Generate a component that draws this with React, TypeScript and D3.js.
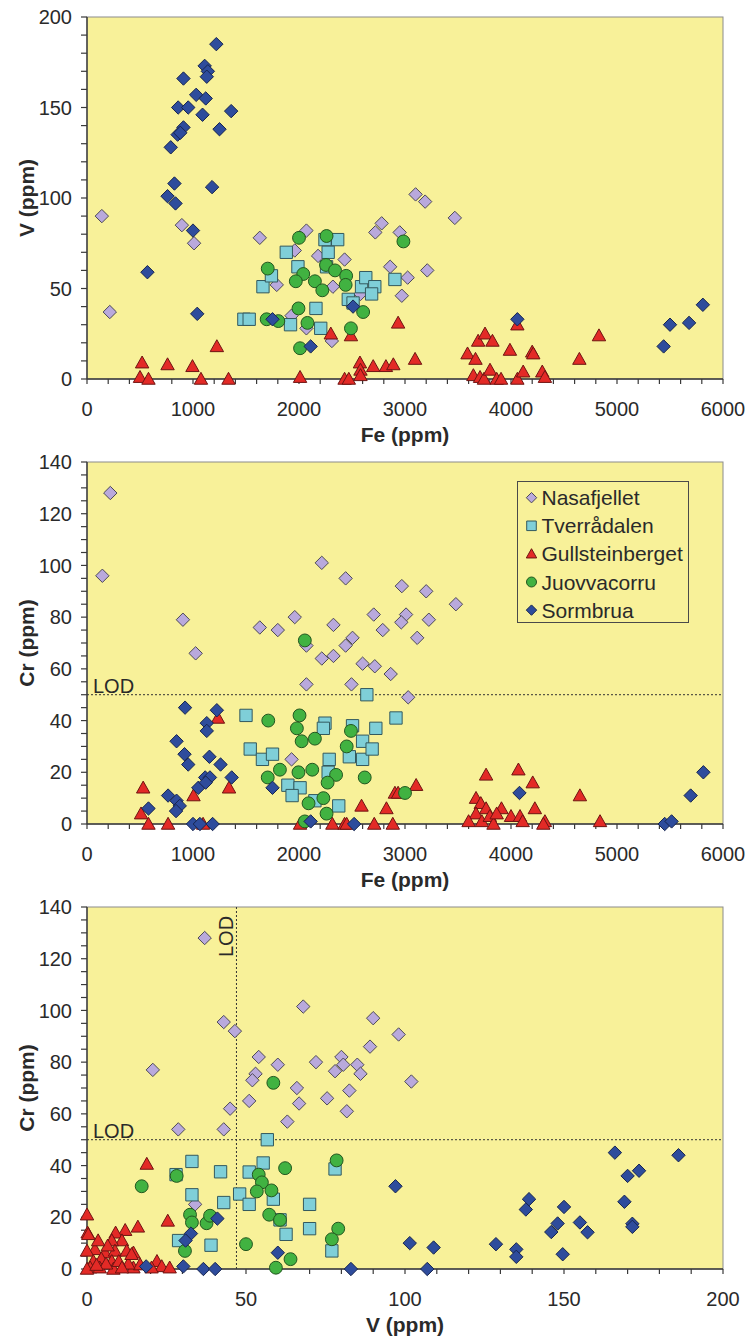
import React from "react";
import * as d3 from "d3";

type Pt = [number, number];

// ---- Series identity -------------------------------------------------------
const seriesNames = ["Nasafjellet", "Tverrådalen", "Gullsteinberget", "Juovvacorru", "Sormbrua"];
const seriesShapes = ["diamond", "square", "triangle", "circle", "diamond"];
const seriesFills = ["#B9A9DC", "#7FCFD8", "#E32A26", "#41B241", "#2E4C9C"];
const seriesStrokes = ["#4d4a55", "#33595e", "#6e1412", "#23561f", "#17254f"];

// ---- Axis ticks ------------------------------------------------------------
const feTicks = [0, 1000, 2000, 3000, 4000, 5000, 6000];
const vTicks = [0, 50, 100, 150, 200];
const crTicks = [0, 20, 40, 60, 80, 100, 120, 140];
const vAxisTicks = [0, 50, 100, 150, 200];

// Detection limits
const crLOD = 50;
const vLOD = 47;

// ---- V vs Fe ---------------------------------------------------------------
const nasafjelletFeV: Pt[] = [
  [140, 90], [215, 37], [895, 85], [1010, 75], [1630, 78], [2070, 82], [1960, 71], [2180, 68],
  [2430, 66], [1790, 52], [2320, 51], [2720, 81], [2780, 86], [2860, 62], [2970, 46], [2950, 81],
  [3025, 56], [1930, 35], [2070, 28], [2310, 21], [2580, 47], [3100, 102], [3190, 98], [3470, 89],
  [3210, 60],
];
const tverradalenFeV: Pt[] = [
  [1480, 33], [1530, 33], [1660, 51], [1740, 57], [1880, 70], [1990, 62], [2245, 77], [2365, 77],
  [2275, 70], [1920, 30], [2160, 39], [2205, 28], [2590, 51], [2630, 56], [2715, 51], [2685, 47],
  [2465, 44], [2510, 42], [2905, 55], [2260, 62],
];
const gullsteinbergetFeV: Pt[] = [
  [520, 9], [500, 1], [580, 0], [760, 8], [995, 7], [1075, 0], [1225, 18], [1335, 0], [2010, 1],
  [2300, 25], [2490, 24], [2430, 0], [2470, 0], [2575, 9], [2580, 5], [2580, 2], [2700, 7],
  [2820, 7], [2890, 8], [2935, 31], [3095, 11], [3590, 14], [3665, 11], [3690, 21], [3755, 25],
  [3825, 21], [3645, 2], [3708, 1], [3745, 0], [3802, 5], [3865, 0], [3906, 0], [3990, 16],
  [4060, 30], [4060, 0], [4115, 4], [4200, 15], [4210, 14], [4295, 4], [4320, 1], [4645, 11],
  [4830, 24],
];
const juovvacorruFeV: Pt[] = [
  [2260, 79], [2000, 78], [1705, 61], [2040, 58], [2150, 54], [1970, 54], [2255, 63], [2340, 60],
  [2445, 57], [2440, 52], [2220, 49], [2985, 76], [1995, 39], [1695, 33], [1805, 32], [2080, 31],
  [2605, 37], [2490, 28], [2010, 17],
];
const sormbruaFeV: Pt[] = [
  [1220, 185], [1110, 173], [1140, 170], [1130, 167], [910, 166], [1030, 157], [1120, 155],
  [860, 150], [955, 150], [1090, 146], [1360, 148], [910, 139], [855, 135], [880, 136], [1250, 138],
  [790, 128], [825, 108], [1180, 106], [760, 101], [835, 97], [1000, 82], [570, 59], [1040, 36],
  [1750, 33], [2510, 40], [2110, 18], [4060, 33], [5810, 41], [5500, 30], [5680, 31], [5440, 18],
];

// ---- Cr vs Fe --------------------------------------------------------------
const nasafjelletFeCr: Pt[] = [
  [220, 128], [145, 96], [905, 79], [1025, 66], [1630, 76], [1800, 75], [1960, 80], [2215, 101],
  [2070, 69], [2215, 64], [2325, 65], [2325, 77], [2440, 95], [2440, 69], [2505, 72], [2600, 62],
  [2715, 61], [2705, 81], [2790, 75], [2865, 58], [2970, 92], [3010, 81], [2965, 78], [3030, 49],
  [2070, 54], [2495, 54], [1930, 25], [3200, 90], [3480, 85], [3225, 79], [3115, 72],
];
const tverradalenFeCr: Pt[] = [
  [1500, 42], [1540, 29], [1655, 25], [1750, 27], [1895, 15], [2010, 14], [1935, 11], [2245, 39],
  [2230, 37], [2285, 25], [2275, 20], [2150, 9], [2375, 7], [2505, 38], [2475, 26], [2600, 32],
  [2600, 25], [2690, 29], [2725, 37], [2640, 50], [2915, 41],
];
const gullsteinbergetFeCr: Pt[] = [
  [530, 14], [510, 4], [580, 0], [765, 0], [1005, 11], [1235, 41], [1340, 14], [1095, 0],
  [2010, 0], [2315, 0], [2430, 0], [2450, 0], [2590, 7], [2710, 0], [2825, 6], [2885, 0],
  [2905, 12], [2935, 12], [3105, 15], [3765, 19], [3670, 10], [3715, 8], [3765, 6], [3670, 4],
  [3600, 1], [3725, 1], [3800, 3], [3835, 0], [3910, 6], [3865, 4], [4000, 3], [4070, 21],
  [4205, 16], [4225, 6], [4085, 3], [4110, 1], [4320, 1], [4305, 0], [4650, 11], [4840, 1],
];
const juovvacorruFeCr: Pt[] = [
  [2055, 71], [1710, 40], [2005, 42], [1980, 37], [2025, 32], [2150, 33], [2490, 36], [2450, 30],
  [1820, 21], [1705, 18], [1995, 20], [2125, 21], [2350, 19], [2270, 16], [2620, 18], [2230, 10],
  [2090, 8], [2260, 4], [2055, 1], [3000, 12],
];
const sormbruaFeCr: Pt[] = [
  [925, 45], [1225, 44], [1130, 39], [1130, 36], [845, 32], [920, 27], [955, 23], [1155, 26],
  [1260, 23], [1365, 18], [1115, 18], [1160, 18], [1050, 14], [1120, 16], [765, 11], [845, 9],
  [875, 7], [840, 5], [580, 6], [1000, 0], [1065, 0], [1185, 0], [1750, 14], [2110, 1], [2520, 0],
  [4080, 12], [5815, 20], [5695, 11], [5450, 0], [5515, 1],
];

// ---- Cr vs V ---------------------------------------------------------------
const nasafjelletVCr: Pt[] = [
  [37, 128], [43, 95.5], [46.5, 92], [68, 101.5], [90, 97], [98, 90.7], [89, 86], [20.7, 77],
  [54, 82], [53, 75.5], [52, 73], [60, 79], [72, 80], [80, 82], [80.6, 79], [78, 76.5], [85, 79],
  [86, 75.5], [82.5, 69], [81.7, 61], [75.5, 66], [66, 70], [66.7, 64], [63, 57], [51, 65],
  [45, 62], [43, 54], [28.7, 54], [34, 25], [102, 72.5],
];
const tverradalenVCr: Pt[] = [
  [56.7, 50], [33, 41.6], [28, 36.5], [42, 37.6], [51, 37.5], [55.4, 41], [78, 38.7], [33, 28.7],
  [43, 25.7], [48, 29], [51, 25], [58.6, 27], [70, 25], [70, 15.6], [62.6, 13.4], [60.7, 19],
  [28.8, 11], [39, 9.2], [77, 7],
];
const gullsteinbergetVCr: Pt[] = [
  [18.8, 40.6], [25.4, 18.6], [16, 16.3], [0, 21], [0.2, 14], [12, 15], [9, 14], [11, 11],
  [7.8, 11], [2.5, 7.6], [5.7, 6.3], [0, 7], [8.8, 7], [14.6, 6.3], [22, 3], [23.5, 1], [26, 0.5],
  [2, 3], [4.5, 4], [7.8, 3], [1, 0.5], [4, 0.5], [8.3, 0], [14.6, 0.5], [16.7, 1.7], [0, 0],
  [20.3, 0.5], [12.5, 7], [13, 2], [6, 2], [3, 1.5], [10, 3], [11, 0.5], [6.5, 9], [3.5, 11],
  [14, 5.7], [0.4, 13.4],
];
const juovvacorruVCr: Pt[] = [
  [58.6, 72], [17.2, 32], [28.2, 36], [54, 36.5], [55, 33.5], [53.4, 30], [58, 30.4], [62.3, 39],
  [78.5, 42], [32.4, 21], [33, 18], [37.6, 17.7], [38.7, 20.6], [57.3, 21], [60.7, 19], [30.8, 7],
  [50, 9.6], [64, 3.8], [59.4, 0.5], [79, 15.6], [77, 11.5],
];
const sormbruaVCr: Pt[] = [
  [41, 19.5], [32.7, 13.7], [31, 11], [97, 32], [60, 6.3], [18.6, 1], [30.3, 1], [36.6, 0],
  [40.3, 0], [83, 0], [101.5, 10], [166, 45], [186, 44], [170, 36], [173.6, 38], [169, 26],
  [171.5, 17.5], [171.5, 16.3], [139, 27], [138, 23], [150, 24], [148, 17.6], [146, 14.3],
  [155, 18], [157.4, 14.2], [149.6, 5.7], [128.6, 9.6], [135, 7.6], [135, 4.7], [109, 8.3],
  [107, 0],
];

// ---- Layout ----------------------------------------------------------------
const WIDTH = 749;
const HEIGHT = 1342;
const PLOT_LEFT = 87;
const PLOT_W = 636;
const PLOT_H = 362;
const FONT = "'Liberation Sans', Arial, Helvetica, sans-serif";
const TEXT = "#2a2a2a";
const PLOT_BG = "#F8F199";

type PanelSpec = {
  top: number;
  xDomain: [number, number];
  yDomain: [number, number];
  xTicks: number[];
  yTicks: number[];
  xMinorStep: number;
  yMinorStep: number;
  xTitle: string;
  yTitle: string;
  series: Pt[][];
  lodY?: number;
  lodX?: number;
  legend?: boolean;
};

const panels: PanelSpec[] = [
  {
    top: 17, xDomain: [0, 6000], yDomain: [0, 200], xTicks: feTicks, yTicks: vTicks,
    xMinorStep: 200, yMinorStep: 10, xTitle: "Fe (ppm)", yTitle: "V (ppm)",
    series: [nasafjelletFeV, tverradalenFeV, gullsteinbergetFeV, juovvacorruFeV, sormbruaFeV],
  },
  {
    top: 462, xDomain: [0, 6000], yDomain: [0, 140], xTicks: feTicks, yTicks: crTicks,
    xMinorStep: 200, yMinorStep: 5, xTitle: "Fe (ppm)", yTitle: "Cr (ppm)",
    series: [nasafjelletFeCr, tverradalenFeCr, gullsteinbergetFeCr, juovvacorruFeCr, sormbruaFeCr],
    lodY: crLOD, legend: true,
  },
  {
    top: 907, xDomain: [0, 200], yDomain: [0, 140], xTicks: vAxisTicks, yTicks: crTicks,
    xMinorStep: 10, yMinorStep: 5, xTitle: "V (ppm)", yTitle: "Cr (ppm)",
    series: [nasafjelletVCr, tverradalenVCr, gullsteinbergetVCr, juovvacorruVCr, sormbruaVCr],
    lodY: crLOD, lodX: vLOD,
  },
];

function Marker({ shape, x, y, s, fill, stroke }: { shape: string; x: number; y: number; s: number; fill: string; stroke: string }) {
  const common = { fill, stroke, strokeWidth: 1 };
  if (shape === "circle") return <circle cx={x} cy={y} r={s * 0.96} {...common} />;
  let d = "";
  if (shape === "diamond") d = `M0,${-s}L${s},0L0,${s}L${-s},0Z`;
  else if (shape === "square") d = `M${-s * 0.92},${-s * 0.92}H${s * 0.92}V${s * 0.92}H${-s * 0.92}Z`;
  else d = `M0,${-s}L${s},${s * 0.78}L${-s},${s * 0.78}Z`;
  return <path d={d} transform={`translate(${x},${y})`} {...common} />;
}

function Panel({ spec }: { spec: PanelSpec }) {
  const { top } = spec;
  const bottom = top + PLOT_H;
  const right = PLOT_LEFT + PLOT_W;
  const x = d3.scaleLinear().domain(spec.xDomain).range([PLOT_LEFT, right]);
  const y = d3.scaleLinear().domain(spec.yDomain).range([bottom, top]);
  const xMinor = d3.range(spec.xDomain[0], spec.xDomain[1] + 1e-9, spec.xMinorStep);
  const yMinor = d3.range(spec.yDomain[0], spec.yDomain[1] + 1e-9, spec.yMinorStep);
  const midY = (top + bottom) / 2;

  return (
    <g>
      <rect x={PLOT_LEFT} y={top} width={PLOT_W} height={PLOT_H} fill={PLOT_BG} stroke="#8c8c8c" strokeWidth={1} />

      {spec.lodY !== undefined && (
        <g>
          <line x1={PLOT_LEFT} x2={right} y1={y(spec.lodY)} y2={y(spec.lodY)} stroke="#333" strokeWidth={1} strokeDasharray="2,2" />
          <text x={PLOT_LEFT + 6} y={y(spec.lodY) - 2} fontSize={20} fill={TEXT}>LOD</text>
        </g>
      )}
      {spec.lodX !== undefined && (
        <g>
          <line x1={x(spec.lodX)} x2={x(spec.lodX)} y1={top} y2={bottom} stroke="#333" strokeWidth={1} strokeDasharray="2,2" />
          <text transform={`translate(${x(spec.lodX) - 3},${top + 50}) rotate(-90)`} fontSize={20} fill={TEXT}>LOD</text>
        </g>
      )}

      {/* axes */}
      <line x1={PLOT_LEFT} x2={PLOT_LEFT} y1={top} y2={bottom} stroke="#3a3a3a" strokeWidth={1.4} />
      <line x1={PLOT_LEFT} x2={right} y1={bottom} y2={bottom} stroke="#3a3a3a" strokeWidth={1.4} />
      {yMinor.map((v) => (
        <line key={`yt${v}`} x1={PLOT_LEFT - 6} x2={PLOT_LEFT} y1={y(v)} y2={y(v)} stroke="#3a3a3a" strokeWidth={1.2} />
      ))}
      {xMinor.map((v) => (
        <line key={`xt${v}`} x1={x(v)} x2={x(v)} y1={bottom} y2={bottom + 5} stroke="#3a3a3a" strokeWidth={1.2} />
      ))}
      {spec.yTicks.map((v) => (
        <text key={`yl${v}`} x={72} y={y(v)} dy="0.36em" textAnchor="end" fontSize={20} fill={TEXT}>{v}</text>
      ))}
      {spec.xTicks.map((v) => (
        <text key={`xl${v}`} x={x(v)} y={bottom + 30} dy="0.36em" textAnchor="middle" fontSize={20} fill={TEXT}>{v}</text>
      ))}
      <text x={(PLOT_LEFT + right) / 2} y={bottom + 55} dy="0.36em" textAnchor="middle" fontSize={21} fontWeight="bold" fill={TEXT}>{spec.xTitle}</text>
      <text transform={`translate(26,${midY}) rotate(-90)`} dy="0.36em" textAnchor="middle" fontSize={21} fontWeight="bold" fill={TEXT}>{spec.yTitle}</text>

      {/* data markers, drawn in series order */}
      {spec.series.map((pts, si) => (
        <g key={`s${si}`}>
          {pts.map((p, pi) => (
            <Marker key={pi} shape={seriesShapes[si]} x={x(p[0])} y={y(p[1])} s={6.7} fill={seriesFills[si]} stroke={seriesStrokes[si]} />
          ))}
        </g>
      ))}

      {spec.legend && (
        <g>
          <rect x={517.5} y={481.5} width={171} height={141} fill="none" stroke="#4a4a4a" strokeWidth={1} />
          {seriesNames.map((name, i) => {
            const cy = 497.7 + i * 28.1;
            return (
              <g key={name}>
                <Marker shape={seriesShapes[i]} x={531.5} y={cy} s={5.2} fill={seriesFills[i]} stroke={seriesStrokes[i]} />
                <text x={541.5} y={cy} dy="0.36em" fontSize={21} fill={TEXT}>{name}</text>
              </g>
            );
          })}
        </g>
      )}
    </g>
  );
}

export default function App() {
  return (
    <svg
      width={WIDTH}
      height={HEIGHT}
      fontFamily={FONT}
      style={{ position: "absolute", left: 0, top: 0, display: "block", background: "#ffffff" }}
    >
      {panels.map((p, i) => (
        <Panel key={i} spec={p} />
      ))}
    </svg>
  );
}
